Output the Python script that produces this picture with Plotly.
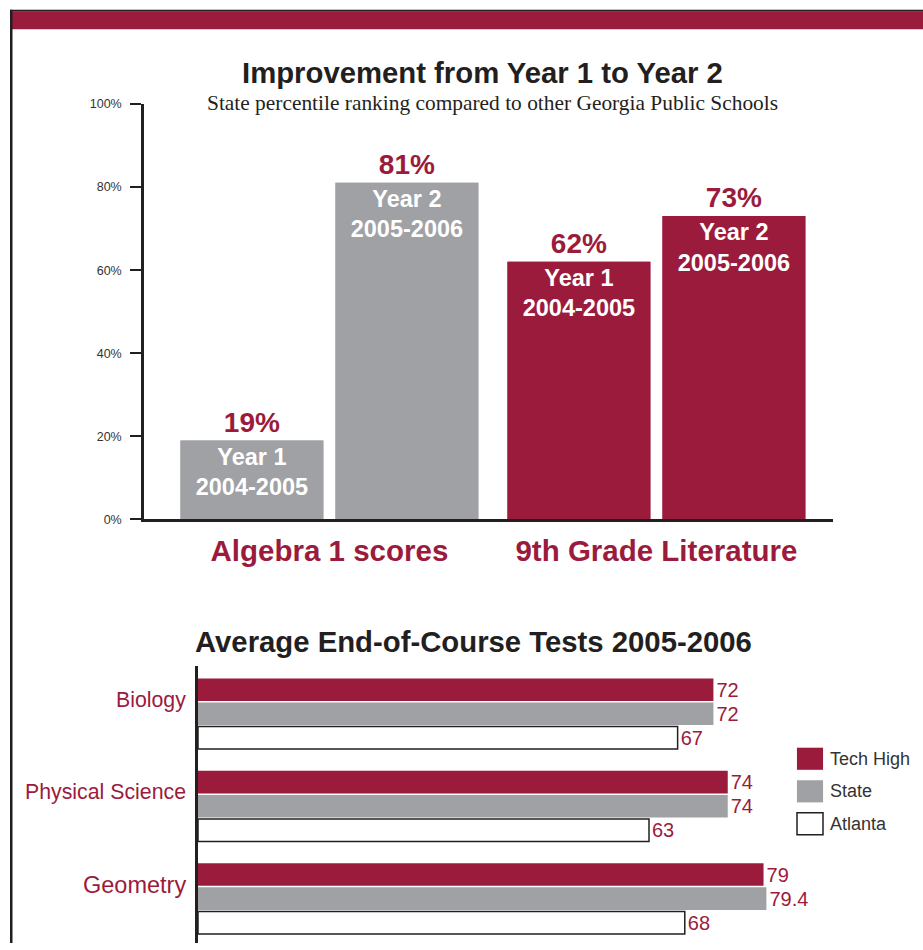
import plotly.graph_objects as go

# ---------------- data ----------------
subjects = ["Algebra 1 scores", "9th Grade Literature"]
year1_pct = [19, 62]
year2_pct = [81, 73]
year_labels = ["Year 1<br>2004-2005", "Year 2<br>2005-2006"]
pct_ticks = [0, 20, 40, 60, 80, 100]
pct_tick_labels = ["0%", "20%", "40%", "60%", "80%", "100%"]

courses = ["Biology", "Physical Science", "Geometry"]
tech_high = [72, 74, 79]
state = [72, 74, 79.4]
atlanta = [67, 63, 68]
series_names = ["Tech High", "State", "Atlanta"]

# ---------------- style ----------------
W, H = 923, 950
Y0, YS = 7.2, 0.984        # observed vertical mapping of the captured page
CRIMSON = "#9B1B3C"
GRAY = "#A0A1A4"
DARK = "#231F20"
TEXT = "#333333"
SANS = "Liberation Sans, Arial, Helvetica, sans-serif"
SERIF = "Liberation Serif, Times New Roman, serif"
subject_colors = [GRAY, CRIMSON]
series_fill = [CRIMSON, GRAY, "#FFFFFF"]
series_line = [CRIMSON, GRAY, DARK]
series_line_w = [0, 0, 1.5]
course_label_sizes = [21.3, 21.3, 23.5]
# top chart bar geometry (category units)
TOP_BAR_W = 0.437
TOP_OFFSETS = [-0.4555, 0.0185]


def px(x):
    return x / W


def py(y):
    return 1 - ((y - Y0) / YS) / H


fig = go.Figure()

# ---------------- top chart ----------------
for i, vals in enumerate([year1_pct, year2_pct]):
    common = dict(x=subjects, y=vals, width=TOP_BAR_W, offset=TOP_OFFSETS[i],
                  marker=dict(color=subject_colors, line=dict(width=0)),
                  showlegend=False, hoverinfo="skip", xaxis="x", yaxis="y")
    # percent label above each bar
    fig.add_trace(go.Bar(
        text=[f"{v}%" for v in vals], textposition="outside",
        outsidetextfont=dict(family=SANS, size=28, color=CRIMSON, weight="bold"),
        cliponaxis=False, **common))
    # year label inside the same bar
    fig.add_trace(go.Bar(
        text=[year_labels[i]] * len(vals), textposition="inside",
        insidetextanchor="end", constraintext="none",
        insidetextfont=dict(family=SANS, size=23.5, color="white", weight="bold"),
        **common))

# ---------------- bottom chart ----------------
for name, vals, fc, lc, lw in zip(series_names, [tech_high, state, atlanta],
                                   series_fill, series_line, series_line_w):
    fig.add_trace(go.Bar(
        y=courses, x=vals, orientation="h", name=name,
        marker=dict(color=fc, line=dict(color=lc, width=lw)),
        text=[f"{v:g}" for v in vals], textposition="outside",
        outsidetextfont=dict(family=SANS, size=20, color=CRIMSON),
        cliponaxis=False, showlegend=False, hoverinfo="skip",
        xaxis="x2", yaxis="y2",
    ))

fig.update_layout(
    width=W, height=H,
    margin=dict(l=0, r=0, t=0, b=0),
    paper_bgcolor="white", plot_bgcolor="white",
    barmode="group", bargap=0.22, bargroupgap=0.0625,
    font=dict(family=SANS, color=TEXT),
    xaxis=dict(
        domain=[px(144), px(833)], anchor="y",
        range=[-0.567, 1.54], type="category",
        showline=True, linecolor=DARK, linewidth=2.5,
        ticks="", showgrid=False, zeroline=False,
        tickfont=dict(family=SANS, size=29.5, color=CRIMSON, weight="bold"),
        ticklabelstandoff=3,
    ),
    yaxis=dict(
        domain=[py(519), py(104)], anchor="x",
        range=[0, 100], tickmode="array", tickvals=pct_ticks, ticktext=pct_tick_labels,
        showline=True, linecolor=DARK, linewidth=2.5,
        ticks="outside", ticklen=11, tickwidth=2, tickcolor=DARK,
        showgrid=False, zeroline=False,
        tickfont=dict(family=SANS, size=12.5, color=TEXT),
        ticklabelstandoff=6,
    ),
    yaxis3=dict(
        overlaying="y", anchor="x", side="left",
        range=[0, 100], tickmode="array", tickvals=pct_ticks,
        showticklabels=False, showline=False, showgrid=False, zeroline=False,
        ticks="inside", ticklen=11, tickwidth=2, tickcolor=DARK,
    ),
    xaxis2=dict(
        domain=[px(198), px(780)], anchor="y2",
        range=[0, 81.3], visible=False,
    ),
    yaxis2=dict(
        domain=[0, py(665)], anchor="x2",
        range=[2.48, -0.52], type="category",
        showline=True, linecolor=DARK, linewidth=2.5,
        showticklabels=False, ticks="", showgrid=False, zeroline=False,
    ),
)

shapes = [
    dict(type="rect", xref="paper", yref="paper", x0=px(10), x1=1, y0=py(12), y1=py(10),
         fillcolor=DARK, line=dict(width=0)),
    dict(type="rect", xref="paper", yref="paper", x0=px(12), x1=1, y0=py(29.5), y1=py(12),
         fillcolor=CRIMSON, line=dict(width=0)),
    dict(type="rect", xref="paper", yref="paper", x0=px(10), x1=px(12.5), y0=0, y1=py(10),
         fillcolor=DARK, line=dict(width=0)),
]
annotations = [
    dict(text="Improvement from Year 1 to Year 2", xref="paper", yref="paper",
         x=px(482), y=py(73), xanchor="center", yanchor="middle", showarrow=False,
         font=dict(family=SANS, size=29.3, color=DARK, weight="bold")),
    dict(text="State percentile ranking compared to other Georgia Public Schools",
         xref="paper", yref="paper", x=px(492), y=py(103), xanchor="center",
         yanchor="middle", showarrow=False,
         font=dict(family=SERIF, size=21.4, color=DARK)),
    dict(text="Average End-of-Course Tests 2005-2006", xref="paper", yref="paper",
         x=px(473), y=py(641), xanchor="center", yanchor="middle", showarrow=False,
         font=dict(family=SANS, size=29.3, color=DARK, weight="bold")),
]
for c, s in zip(courses, course_label_sizes):
    annotations.append(dict(
        text=c, xref="paper", yref="y2", x=px(188), y=c, xanchor="right",
        yanchor="middle", yshift=14, showarrow=False,
        font=dict(family=SANS, size=s, color=CRIMSON)))

# legend (custom, larger swatches)
for i, (name, fc, lc, lw) in enumerate(zip(series_names, series_fill, series_line, series_line_w)):
    top = 747 + 32.5 * i
    shapes.append(dict(type="rect", xref="paper", yref="paper",
                       x0=px(797), x1=px(823), y0=py(top + 22), y1=py(top),
                       fillcolor=fc, line=dict(color=lc if lw else fc, width=max(lw, 0.1))))
    annotations.append(dict(text=name, xref="paper", yref="paper", x=px(828),
                            y=py(top + 11), xanchor="left", yanchor="middle",
                            showarrow=False, font=dict(family=SANS, size=18, color=TEXT)))

fig.update_layout(shapes=shapes, annotations=annotations)
fig.write_html(
    "out.html",
    config={"displayModeBar": False},
    post_script="document.body.style.margin='0';document.body.style.padding='0';"
                "document.documentElement.style.overflow='hidden';",
)
